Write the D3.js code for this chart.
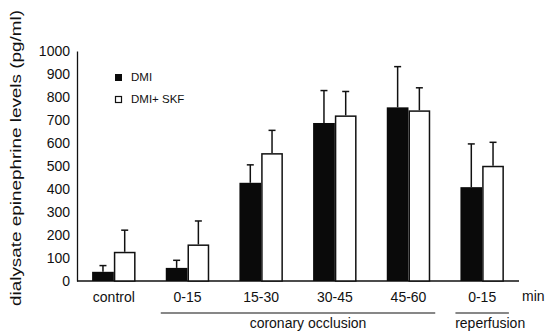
<!DOCTYPE html>
<html>
<head>
<meta charset="utf-8">
<script src="https://cdn.jsdelivr.net/npm/d3@7"></script>
<style>
  body { margin: 0; background: #fff; }
  svg { display: block; }
  text { font-family: "Liberation Sans", Arial, Helvetica, sans-serif; fill: #111; }
</style>
</head>
<body>
<figure id="chart" style="margin:0"></figure>
<script>
// values (pg/ml), mean and SEM
const groups = ['control', '0-15', '15-30', '30-45', '45-60', '0-15'];
const seriesNames = ['DMI', 'DMI+ SKF'];
const dmiMean = [40, 57, 427, 687, 755, 408];
const dmiSem = [27, 33, 78, 141, 177, 188];
const skfMean = [127, 159, 556, 720, 742, 501];
const skfSem = [94, 102, 99, 104, 98, 102];
const yTicks = [0, 100, 200, 300, 400, 500, 600, 700, 800, 900, 1000];
const phases = [
  { name: 'coronary occlusion', from: 1, to: 4 },
  { name: 'reperfusion', from: 5, to: 5 }
];

const width = 547, height = 334;
const plotLeft = 77, plotRight = 519, plotTop = 51, plotBottom = 281;

const svg = d3.select('#chart').append('svg')
  .attr('width', width)
  .attr('height', height);

const x = d3.scaleBand()
  .domain(d3.range(groups.length))
  .range([plotLeft, plotRight])
  .paddingInner(0.41)
  .paddingOuter(0.205);

const xSub = d3.scaleBand()
  .domain([0, 1])
  .range([0, x.bandwidth()]);

const y = d3.scaleLinear()
  .domain([0, 1000])
  .range([plotBottom, plotTop]);

// y axis
const yAxis = svg.append('g')
  .attr('transform', `translate(${plotLeft},0)`)
  .call(d3.axisLeft(y).tickValues(yTicks).tickFormat(d3.format('d')).tickSize(0).tickPadding(7));
yAxis.select('.domain').attr('stroke', '#111').attr('stroke-width', 1.3);
yAxis.selectAll('text').style('font-size', '14px').attr('fill', '#111');

// baseline
svg.append('line')
  .attr('x1', plotLeft).attr('x2', plotRight)
  .attr('y1', y(0)).attr('y2', y(0))
  .attr('stroke', '#111').attr('stroke-width', 1.5);

svg.append('text')
  .attr('transform', 'translate(21,158) rotate(-90)')
  .attr('text-anchor', 'middle')
  .attr('textLength', 296)
  .attr('lengthAdjust', 'spacingAndGlyphs')
  .style('font-size', '15.5px')
  .text('dialysate epinephrine levels (pg/ml)');

const rows = groups.map((g, i) => ([
  { i, s: 0, mean: dmiMean[i], sem: dmiSem[i] },
  { i, s: 1, mean: skfMean[i], sem: skfSem[i] }
])).flat();

// error bars first so the bar outline sits on top
const err = svg.append('g').selectAll('g')
  .data(rows)
  .enter()
  .append('g')
  .attr('transform', d => `translate(${x(d.i) + xSub(d.s) + xSub.bandwidth() / 2},0)`);
err.append('line')
  .attr('y1', d => y(d.mean)).attr('y2', d => y(d.mean + d.sem))
  .attr('stroke', '#111').attr('stroke-width', 1.5);
err.append('line')
  .attr('x1', -3.5).attr('x2', 3.5)
  .attr('y1', d => y(d.mean + d.sem)).attr('y2', d => y(d.mean + d.sem))
  .attr('stroke', '#111').attr('stroke-width', 1.5);

svg.append('g').selectAll('rect')
  .data(rows)
  .enter()
  .append('rect')
  .attr('x', d => x(d.i) + xSub(d.s) + (d.s ? 0.75 : 0))
  .attr('y', d => y(d.mean) + (d.s ? 0.75 : 0))
  .attr('width', d => xSub.bandwidth() - (d.s ? 1.5 : 0))
  .attr('height', d => y(0) - y(d.mean) - (d.s ? 0.75 : 0))
  .attr('fill', d => d.s ? '#fff' : '#0a0a0a')
  .attr('stroke', d => d.s ? '#111' : 'none')
  .attr('stroke-width', 1.5);

// category labels
svg.append('g').selectAll('text')
  .data(groups)
  .enter()
  .append('text')
  .attr('x', (d, i) => x(i) + x.bandwidth() / 2)
  .attr('y', 302)
  .attr('text-anchor', 'middle')
  .style('font-size', '14px')
  .text(d => d);

svg.append('text')
  .attr('x', 522).attr('y', 301)
  .style('font-size', '14px')
  .text('min');

// phase brackets
const ph = svg.append('g').selectAll('g')
  .data(phases)
  .enter()
  .append('g');
ph.append('line')
  .attr('x1', d => x(d.from) - 5)
  .attr('x2', d => x(d.to) + x.bandwidth() + 5)
  .attr('y1', 313).attr('y2', 313)
  .attr('stroke', '#111').attr('stroke-width', 1.2);
ph.append('text')
  .attr('x', d => (x(d.from) + x(d.to) + x.bandwidth()) / 2 + (d.from === d.to ? 8 : 10))
  .attr('y', 328)
  .attr('text-anchor', 'middle')
  .style('font-size', '14px')
  .text(d => d.name);

// legend
const legend = svg.append('g').selectAll('g')
  .data(seriesNames)
  .enter()
  .append('g')
  .attr('transform', (d, i) => `translate(115,${74 + i * 22})`);
legend.append('rect')
  .attr('x', (d, i) => i ? 0.5 : 0)
  .attr('y', (d, i) => i ? 0.5 : 0)
  .attr('width', (d, i) => i ? 6 : 7)
  .attr('height', (d, i) => i ? 6 : 7)
  .attr('fill', (d, i) => i ? '#fff' : '#0a0a0a')
  .attr('stroke', (d, i) => i ? '#111' : 'none')
  .attr('stroke-width', 1.2);
legend.append('text')
  .attr('x', 16).attr('y', 7)
  .style('font-size', '11.5px')
  .text(d => d);
</script>
</body>
</html>
